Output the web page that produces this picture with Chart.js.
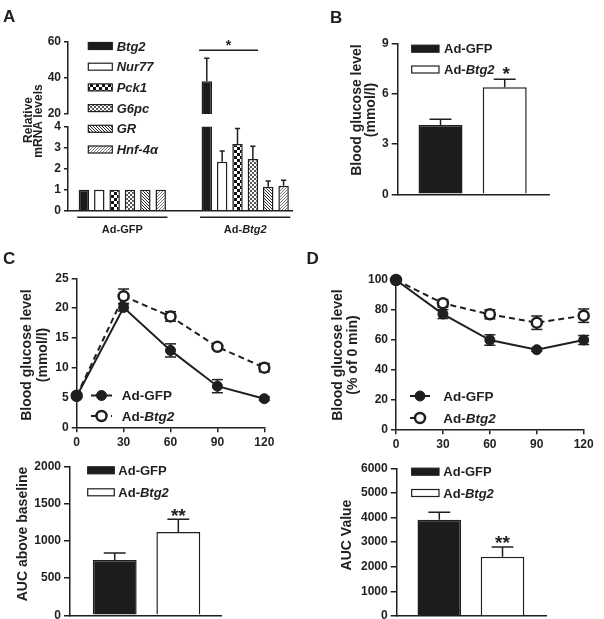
<!DOCTYPE html>
<html>
<head>
<meta charset="utf-8">
<script src="https://cdn.jsdelivr.net/npm/chart.js@4.4.1/dist/chart.umd.min.js"></script>
<style>
  body { margin: 0; background: #fff; }
  #fig { position: relative; width: 604px; height: 619px; }
  #fig canvas { position: absolute; left: 0; top: 0; }
</style>
</head>
<body>
<div id="fig"></div>
<script>
// ---------- data ----------
const genes = ['Btg2', 'Nur77', 'Pck1', 'G6pc', 'GR', 'Hnf-4α'];
const treatments = ['Ad-GFP', 'Ad-Btg2'];

// A: relative mRNA levels
const mrnaGFP = [1, 1, 1, 1, 1, 1];
const mrnaGFPErr = [0, 0, 0, 0, 0, 0];
const mrnaBtg2 = [38.1, 2.33, 3.18, 2.46, 1.14, 1.19];
const mrnaBtg2Err = [12.7, 0.51, 0.74, 0.61, 0.27, 0.26];
const mrnaTicksHigh = [20, 40, 60];
const mrnaTicksLow = [0, 1, 2, 3, 4];

// B: fasting blood glucose (mmol/l)
const fastGlucose = [4.13, 6.38];
const fastGlucoseErr = [0.34, 0.47];
const fastTicks = [0, 3, 6, 9];

// C: glucose tolerance test (mmol/l)
const timeMin = [0, 30, 60, 90, 120];
const gttGFP = [5.2, 20.1, 12.9, 6.9, 4.8];
const gttGFPErr = [0.3, 0.6, 1.1, 1.1, 0.3];
const gttBtg2 = [5.3, 22.0, 18.6, 13.5, 10.0];
const gttBtg2Err = [0.3, 1.2, 0.8, 0.4, 0.7];
const gttTicks = [0, 5, 10, 15, 20, 25];
const timeTicks = [0, 30, 60, 90, 120];

// D: insulin tolerance test (% of 0 min)
const ittGFP = [100, 77.2, 59.8, 53.3, 59.8];
const ittGFPErr = [0, 3, 3.5, 1, 3];
const ittBtg2 = [100, 84.4, 77, 71.4, 76.1];
const ittBtg2Err = [0, 2.5, 3, 4.5, 4.5];
const ittTicks = [0, 20, 40, 60, 80, 100];

// AUCs
const gttAUC = [745, 1122];
const gttAUCErr = [95, 170];
const gttAUCTicks = [0, 500, 1000, 1500, 2000];
const ittAUC = [3912, 2410];
const ittAUCErr = [300, 393];
const ittAUCTicks = [0, 1000, 2000, 3000, 4000, 5000, 6000];

// ---------- styles ----------
const W = 604, H = 619;
const INK = '#1f1f1f';
const FONT = '"Liberation Sans", Arial, Helvetica, sans-serif';
const Y_BOX = 50;   // room kept for y tick labels
const X_BOX = 30;   // room kept for x tick labels (time axes)

function font(size, italic) {
    return (italic ? 'italic ' : '') + 'bold ' + size + 'px ' + FONT;
}

function checker(s, color) {
    const c = document.createElement('canvas');
    c.width = c.height = 2 * s;
    const g = c.getContext('2d');
    g.fillStyle = '#fff'; g.fillRect(0, 0, 2 * s, 2 * s);
    g.fillStyle = color; g.fillRect(0, 0, s, s); g.fillRect(s, s, s, s);
    return g.createPattern(c, 'repeat');
}

function stripes(dir, n, color) {
    const c = document.createElement('canvas');
    c.width = c.height = n;
    const g = c.getContext('2d');
    g.fillStyle = '#fff'; g.fillRect(0, 0, n, n);
    g.fillStyle = color;
    for (let i = 0; i < n; i++) {
        g.fillRect(dir === '\\' ? i : n - 1 - i, i, 1, 1);
    }
    return g.createPattern(c, 'repeat');
}

const geneFills = ['#1c1c1c', '#ffffff', checker(3, '#111'), checker(2, '#555'),
    stripes('\\', 3, '#222'), stripes('/', 3, '#777')];
const barFills = ['#1c1c1c', '#ffffff'];

// gene names are italic, "Ad-Btg2" -> "Ad-" + italic "Btg2"
function nameParts(name) {
    if (name.startsWith('Ad-') && name !== 'Ad-GFP') return [['Ad-', false], [name.slice(3), true]];
    return [[name, false]];
}

function drawParts(ctx, parts, x, y, size, align) {
    let w = 0;
    parts.forEach(p => { ctx.font = font(size, p[1]); w += ctx.measureText(p[0]).width; });
    let cx = align === 'center' ? x - w / 2 : x;
    ctx.textAlign = 'left';
    ctx.textBaseline = 'alphabetic';
    parts.forEach(p => {
        ctx.font = font(size, p[1]);
        ctx.fillText(p[0], cx, y);
        cx += ctx.measureText(p[0]).width;
    });
    return w;
}

function line(ctx, x0, y0, x1, y1) {
    ctx.beginPath(); ctx.moveTo(x0, y0); ctx.lineTo(x1, y1); ctx.stroke();
}

// ---------- scales ----------
// each axis gets a fixed box, so the layout padding puts the plot area where we want it
function fixedBox(size) {
    return s => {
        if (s.isHorizontal()) s.height = size; else s.width = size;
        s.paddingTop = s.paddingBottom = s.paddingLeft = s.paddingRight = 0;
    };
}

function numAxis(ticks, tickLen, box) {
    return {
        type: 'linear', min: ticks[0], max: ticks[ticks.length - 1], offset: false,
        afterBuildTicks: s => { s.ticks = ticks.map(v => ({ value: v })); },
        afterFit: fixedBox(box),
        border: { display: true, color: INK, width: 1.5 },
        grid: { display: true, offset: false, drawOnChartArea: false, drawTicks: true, tickLength: tickLen, color: INK, lineWidth: 1.5 },
        ticks: { color: INK, padding: 3, autoSkip: false, maxRotation: 0,
            font: { family: FONT, size: 12, weight: 'bold' }, callback: v => String(v) }
    };
}

function groupAxis(n, min, max) {
    return {
        type: 'linear', min: min, max: max, offset: false,
        afterBuildTicks: s => { s.ticks = Array.from({ length: n }, (_, i) => ({ value: i })); },
        afterFit: fixedBox(0),
        border: { display: true, color: INK, width: 1.5 },
        grid: { display: false, offset: false },
        ticks: { display: false }
    };
}

function baseOptions(area, scales, xBox) {
    return {
        responsive: false, animation: false, events: [],
        layout: { padding: { left: area[0] - Y_BOX, top: area[1], right: W - area[2], bottom: H - area[3] - xBox } },
        plugins: { legend: { display: false }, tooltip: { enabled: false } },
        scales: scales
    };
}

const pts = (xs, ys) => ys.map((y, i) => ({ x: xs[i], y: y }));

// ---------- annotation plugin ----------
function drawErrors(chart, conf) {
    const ctx = chart.ctx, area = chart.chartArea, y = chart.scales.y;
    const both = conf.errMode === 'both';
    ctx.save();
    if (!both) {
        ctx.beginPath();
        ctx.rect(0, area.top, W, area.bottom - area.top);
        ctx.clip();
    }
    ctx.strokeStyle = INK;
    ctx.lineWidth = 1.5;
    conf.errors.forEach((errs, d) => {
        const meta = chart.getDatasetMeta(d);
        const data = chart.data.datasets[d].data;
        errs.forEach((e, i) => {
            if (!e) return;
            const el = meta.data[i], v = data[i].y;
            const top = y.getPixelForValue(v + e);
            const bot = both ? y.getPixelForValue(v - e) : el.y;
            const cap = both ? 5.5 : el.width / 4;
            line(ctx, el.x, top, el.x, bot);
            line(ctx, el.x - cap, top, el.x + cap, top);
            if (both) line(ctx, el.x - cap, bot, el.x + cap, bot);
        });
    });
    ctx.restore();
}

function drawMarker(ctx, x, y, ds) {
    ctx.beginPath();
    ctx.arc(x, y, ds.pointRadius, 0, Math.PI * 2);
    ctx.fillStyle = ds.pointBackgroundColor;
    ctx.fill();
    ctx.lineWidth = ds.pointBorderWidth;
    ctx.strokeStyle = ds.pointBorderColor;
    ctx.stroke();
}

function drawLegend(ctx, lg) {
    ctx.save();
    lg.items.forEach((it, k) => {
        const cy = lg.y + k * lg.dy;
        if (it.ds) {
            ctx.save();
            ctx.strokeStyle = it.ds.borderColor;
            ctx.lineWidth = it.ds.borderWidth;
            ctx.setLineDash(it.ds.borderDash || []);
            line(ctx, lg.x, cy, lg.x + lg.w, cy);
            ctx.restore();
            drawMarker(ctx, lg.x + lg.w / 2, cy, it.ds);
        } else {
            ctx.fillStyle = it.fill;
            ctx.fillRect(lg.x, cy - lg.h / 2, lg.w, lg.h);
            ctx.strokeStyle = INK;
            ctx.lineWidth = 1.2;
            ctx.strokeRect(lg.x, cy - lg.h / 2, lg.w, lg.h);
        }
        ctx.fillStyle = INK;
        const w = drawParts(ctx, it.parts, lg.textX, cy + lg.size * 0.36, lg.size);
        if (it.suffix) {
            ctx.font = font(19);
            ctx.fillText(it.suffix, lg.textX + w + 8, cy + 10);
        }
    });
    ctx.restore();
}

function drawStars(chart, conf) {
    const ctx = chart.ctx, y = chart.scales.y;
    ctx.save();
    ctx.fillStyle = INK;
    ctx.font = font(19);
    ctx.textAlign = 'center';
    ctx.textBaseline = 'alphabetic';
    conf.stars.forEach(s => {
        const el = chart.getDatasetMeta(s.d).data[s.i];
        const v = chart.data.datasets[s.d].data[s.i].y + conf.errors[s.d][s.i];
        ctx.fillText(s.text, el.x, y.getPixelForValue(v) + 2.5);
    });
    ctx.restore();
}

function figPlugin(conf) {
    return {
        id: 'fig',
        beforeDatasetsDraw(chart) { if (conf.errors && conf.errMode === 'both') drawErrors(chart, conf); },
        afterDatasetsDraw(chart) { if (conf.errors && conf.errMode !== 'both') drawErrors(chart, conf); },
        afterDraw(chart) {
            if (conf.legend) drawLegend(chart.ctx, conf.legend);
            if (conf.stars) drawStars(chart, conf);
            if (conf.after) conf.after(chart);
        }
    };
}

// panel letters and axis titles
const panelLetters = [['A', 3, 22], ['B', 330, 22.5], ['C', 3, 263.5], ['D', 306.5, 263.5]];
const axisTitles = [
    ['Relative', 28.7, 120, 12], ['mRNA levels', 38.5, 121, 12],
    ['Blood glucose level', 356.7, 110, 14], ['(mmol/l)', 371, 110, 14],
    ['Blood glucose level', 26.7, 355, 14], ['(mmol/l)', 43, 355, 14],
    ['Blood glucose level', 338, 355, 14], ['(% of 0 min)', 353.3, 355, 14],
    ['AUC above baseline', 23.3, 534, 14],
    ['AUC Value', 346.7, 535, 14]
];

const textPlugin = {
    id: 'figText',
    afterDraw(chart) {
        const ctx = chart.ctx;
        ctx.save();
        ctx.fillStyle = INK;
        ctx.textAlign = 'left';
        ctx.textBaseline = 'alphabetic';
        ctx.font = font(17);
        panelLetters.forEach(p => ctx.fillText(p[0], p[1], p[2]));
        axisTitles.forEach(t => {
            ctx.save();
            ctx.translate(t[1], t[2]);
            ctx.rotate(-Math.PI / 2);
            ctx.font = font(t[3]);
            ctx.textAlign = 'center';
            ctx.textBaseline = 'middle';
            ctx.fillText(t[0], 0, 0);
            ctx.restore();
        });
        ctx.restore();
    }
};

function addChart(cfg) {
    const cv = document.createElement('canvas');
    cv.width = W; cv.height = H;
    document.getElementById('fig').appendChild(cv);
    return new Chart(cv, cfg);
}

// ---------- panel A (broken y axis: two stacked charts) ----------
function geneDatasets() {
    return genes.map((g, i) => ({
        label: g,
        data: pts([0, 1], [mrnaGFP[i], mrnaBtg2[i]]),
        backgroundColor: geneFills[i],
        borderColor: INK,
        borderWidth: 1.5,
        categoryPercentage: 0.75,
        barPercentage: 0.68,
        clip: 0
    }));
}
const geneErr = genes.map((g, i) => [mrnaGFPErr[i], mrnaBtg2Err[i]]);
const groupMinA = -0.442, groupMaxA = 1.381;

addChart({
    type: 'bar',
    data: { datasets: geneDatasets() },
    options: baseOptions([68, 126.7, 292, 210.7], {
        x: groupAxis(2, groupMinA, groupMaxA),
        y: numAxis(mrnaTicksLow, 4, Y_BOX)
    }, 0),
    plugins: [textPlugin, figPlugin({
        errors: geneErr,
        legend: {
            x: 88.3, y: 46, dy: 20.7, w: 24, h: 7, textX: 116.7, size: 13,
            items: genes.map((g, i) => ({ parts: [[g, true]], fill: geneFills[i] }))
        },
        after(chart) {
            const ctx = chart.ctx, bottom = chart.chartArea.bottom;
            ctx.save();
            ctx.strokeStyle = INK; ctx.fillStyle = INK; ctx.lineWidth = 1.5;
            treatments.forEach((t, j) => {
                const first = chart.getDatasetMeta(0).data[j];
                const last = chart.getDatasetMeta(genes.length - 1).data[j];
                const x0 = first.x - first.width / 2 - 1.5, x1 = last.x + last.width / 2 + 1.5;
                line(ctx, x0, bottom + 6.5, x1, bottom + 6.5);
                drawParts(ctx, nameParts(t), (x0 + x1) / 2, bottom + 22.5, 11, 'center');
            });
            ctx.restore();
        }
    })]
});

const upperX = groupAxis(2, groupMinA, groupMaxA);
upperX.display = false;
addChart({
    type: 'bar',
    data: { datasets: geneDatasets() },
    options: baseOptions([68, 41.7, 292, 114], {
        x: upperX,
        y: numAxis(mrnaTicksHigh, 4, Y_BOX)
    }, 0),
    plugins: [figPlugin({
        errors: geneErr,
        after(chart) {
            const ctx = chart.ctx, y = chart.scales.y;
            const a = chart.getDatasetMeta(0).data[1], b = chart.getDatasetMeta(3).data[1];
            const ly = y.getPixelForValue(mrnaBtg2[0] + mrnaBtg2Err[0]) - 8;
            const x0 = a.x - a.width / 2 - 2.5, x1 = b.x + b.width / 2;
            ctx.save();
            ctx.strokeStyle = INK; ctx.fillStyle = INK; ctx.lineWidth = 1.5;
            line(ctx, x0, ly, x1, ly);
            ctx.font = font(14);
            ctx.textAlign = 'center';
            ctx.textBaseline = 'alphabetic';
            ctx.fillText('*', (x0 + x1) / 2, ly);
            ctx.restore();
        }
    })]
});

// ---------- two-bar panels (B, C-AUC, D-AUC) ----------
function twoBarChart(area, xr, ticks, values, errs, legend, stars) {
    addChart({
        type: 'bar',
        data: {
            datasets: [{
                data: pts([0, 1], values),
                backgroundColor: barFills,
                borderColor: INK,
                borderWidth: 1.5,
                categoryPercentage: 1,
                barPercentage: xr[2],
                clip: 0
            }]
        },
        options: baseOptions(area, { x: groupAxis(2, xr[0], xr[1]), y: numAxis(ticks, 6, Y_BOX) }, 0),
        plugins: [figPlugin({ errors: [errs], legend: legend, stars: stars })]
    });
}

function barLegend(x, y, dy, w, textX) {
    return {
        x: x, y: y, dy: dy, w: w, h: 7, textX: textX, size: 13,
        items: treatments.map((t, i) => ({ parts: nameParts(t), fill: barFills[i] }))
    };
}

const legendB = barLegend(411.7, 48.7, 20.8, 27.3, 444);
legendB.items[1].suffix = '*';
twoBarChart([397.7, 43.3, 549, 194.3], [-0.667, 1.69, 0.685], fastTicks, fastGlucose, fastGlucoseErr, legendB);

twoBarChart([70, 466.7, 221, 615.3], [-0.703, 1.671, 0.69], gttAUCTicks, gttAUC, gttAUCErr,
    barLegend(87.7, 470.3, 22, 26.6, 118.3), [{ d: 0, i: 1, text: '**' }]);

twoBarChart([396.7, 468.3, 546, 616], [-0.674, 1.688, 0.69], ittAUCTicks, ittAUC, ittAUCErr,
    barLegend(411.7, 471.7, 21.3, 27.3, 443.3), [{ d: 0, i: 1, text: '**' }]);

// ---------- time-course panels (C, D) ----------
function timeDatasets(gfp, btg2) {
    return [{
        label: treatments[0], data: pts(timeMin, gfp),
        borderColor: INK, borderWidth: 2,
        pointRadius: 5, pointBackgroundColor: INK, pointBorderColor: INK, pointBorderWidth: 1,
        clip: false
    }, {
        label: treatments[1], data: pts(timeMin, btg2),
        borderColor: INK, borderWidth: 2, borderDash: [6, 4],
        pointRadius: 5, pointBackgroundColor: '#ffffff', pointBorderColor: INK, pointBorderWidth: 2.5,
        clip: false
    }];
}

function timeChart(area, ticks, gfp, gfpErr, btg2, btg2Err, lg) {
    const datasets = timeDatasets(gfp, btg2);
    lg.items = datasets.map(ds => ({ parts: nameParts(ds.label), ds: ds }));
    addChart({
        type: 'line',
        data: { datasets: datasets },
        options: baseOptions(area, { x: numAxis(timeTicks, 5, X_BOX), y: numAxis(ticks, 5, Y_BOX) }, X_BOX),
        plugins: [figPlugin({ errors: [gfpErr, btg2Err], errMode: 'both', legend: lg })]
    });
}

timeChart([76.7, 278.3, 264.3, 427.3], gttTicks, gttGFP, gttGFPErr, gttBtg2, gttBtg2Err,
    { x: 91, y: 395.5, dy: 20.5, w: 21, textX: 121.7, size: 13.5 });
timeChart([396, 280, 583.7, 429.3], ittTicks, ittGFP, ittGFPErr, ittBtg2, ittBtg2Err,
    { x: 410, y: 396, dy: 22, w: 20, textX: 443.3, size: 13.5 });
</script>
</body>
</html>
